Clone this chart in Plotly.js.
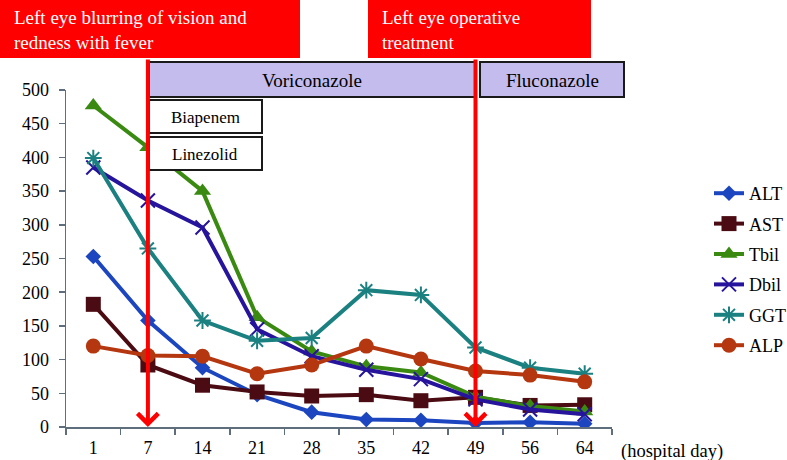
<!DOCTYPE html>
<html>
<head>
<meta charset="utf-8">
<script src="https://cdn.plot.ly/plotly-3.0.1.min.js"></script>
<style>html,body{margin:0;padding:0;background:#fff}#chart{width:787px;height:460px}</style>
</head>
<body>
<div id="chart"></div>
<script>
const days = ['1','7','14','21','28','35','42','49','56','64'];
const ALT  = [253,158,88,48,22,11,10,6,7,5];
const AST  = [182,92,62,52,46,48,39,44,32,33];
const Tbil = [477,415,350,163,112,90,81,45,31,23];
const Dbil = [385,336,296,145,105,85,71,41,26,19];
const GGT  = [399,265,158,128,132,203,196,118,88,79];
const ALP  = [120,106,105,79,92,120,101,83,77,67];
const seriesNames = ['ALT','AST','Tbil','Dbil','GGT','ALP'];
const eventDays = ['7','49'];
const eventLabels = ['Left eye blurring of vision and<br>redness with fever','Left eye operative<br>treatment'];
const drugLabels = ['Voriconazole','Fluconazole','Biapenem','Linezolid'];

const FONT = '"Liberation Serif","Times New Roman",serif';
const colors = ['#1c46c0','#4b0b12','#3a8a12','#26149c','#1b8080','#b5370f'];
const symbols = ['diamond','square','triangle-up','x-thin-open','asterisk-open','circle'];
const sizes = [12,15,15,14,14,15];
const values = [ALT,AST,Tbil,Dbil,GGT,ALP];

const traces = values.map((v,i)=>({
  x: days, y: v, name: seriesNames[i], type:'scatter', mode:'lines+markers',
  line:{color:colors[i], width:4},
  marker:{symbol:symbols[i], size:sizes[i], color:colors[i], line:{color:colors[i], width:(i===3||i===4)?2:0}},
  legendgroup:'g'+i
}));

// pixel -> paper helpers (plot area: left 66, width 546, top 90, height 337)
const L=66, W=546, T=90, H=337;
const px=(x)=>(x-L)/W, py=(y)=>(T+H-y)/H;

const shapes = [
  {type:'rect', xref:'paper', yref:'paper', x0:px(0), x1:px(300), y0:py(58), y1:py(0), fillcolor:'#ff0000', line:{width:0}, layer:'above'},
  {type:'rect', xref:'paper', yref:'paper', x0:px(368), x1:px(591), y0:py(58), y1:py(0), fillcolor:'#ff0000', line:{width:0}, layer:'above'},
  {type:'rect', xref:'paper', yref:'paper', x0:px(149), x1:px(476), y0:py(97), y1:py(62), fillcolor:'#c3bcec', line:{color:'#1a1a1a', width:2}, layer:'above'},
  {type:'rect', xref:'paper', yref:'paper', x0:px(480), x1:px(624), y0:py(97), y1:py(62), fillcolor:'#c3bcec', line:{color:'#1a1a1a', width:2}, layer:'above'},
  {type:'rect', xref:'paper', yref:'paper', x0:px(149), x1:px(262), y0:py(133), y1:py(100), fillcolor:'#ffffff', line:{color:'#1a1a1a', width:2}, layer:'above'},
  {type:'rect', xref:'paper', yref:'paper', x0:px(149), x1:px(262), y0:py(170), y1:py(137), fillcolor:'#ffffff', line:{color:'#1a1a1a', width:2}, layer:'above'}
];

const annotations = [
  {xref:'paper', yref:'paper', x:px(12), y:py(30), xanchor:'left', yanchor:'middle', align:'left', showarrow:false,
   text:eventLabels[0], font:{family:FONT, size:19, color:'#ffffff'}},
  {xref:'paper', yref:'paper', x:px(380), y:py(30), xanchor:'left', yanchor:'middle', align:'left', showarrow:false,
   text:eventLabels[1], font:{family:FONT, size:19, color:'#ffffff'}},
  {xref:'paper', yref:'paper', x:px(312), y:py(80), xanchor:'center', yanchor:'middle', showarrow:false, text:drugLabels[0], font:{family:FONT, size:19, color:'#000'}},
  {xref:'paper', yref:'paper', x:px(552), y:py(80), xanchor:'center', yanchor:'middle', showarrow:false, text:drugLabels[1], font:{family:FONT, size:19, color:'#000'}},
  {xref:'paper', yref:'paper', x:px(205), y:py(117), xanchor:'center', yanchor:'middle', showarrow:false, text:drugLabels[2], font:{family:FONT, size:17, color:'#000'}},
  {xref:'paper', yref:'paper', x:px(205), y:py(154), xanchor:'center', yanchor:'middle', showarrow:false, text:drugLabels[3], font:{family:FONT, size:17, color:'#000'}},
  {xref:'paper', yref:'paper', x:px(619), y:py(451), xanchor:'left', yanchor:'middle', showarrow:false, text:'(hospital day)', font:{family:FONT, size:18.5, color:'#000'}}
];
eventDays.forEach(d=>{
  annotations.push({xref:'x', yref:'y', x:days.indexOf(d), y:0, ax:0, ay:-369, axref:'pixel', ayref:'pixel', text:'', showarrow:true,
    arrowhead:4, arrowsize:1, arrowwidth:4, arrowcolor:'#ff0000', standoff:0, startstandoff:0});
});

const layout = {
  width:787, height:460,
  margin:{l:66, r:175, t:90, b:33, autoexpand:false},
  paper_bgcolor:'#ffffff', plot_bgcolor:'#ffffff',
  font:{family:FONT, size:16, color:'#000'},
  showlegend:true,
  legend:{x:px(709), y:py(175), xanchor:'left', yanchor:'top', font:{family:FONT, size:18, color:'#000'},
          traceorder:'grouped', tracegroupgap:4, bgcolor:'rgba(0,0,0,0)'},
  xaxis:{type:'category', range:[-0.5,9.5], showgrid:false, zeroline:false, showline:true, linecolor:'#5f6e7c', linewidth:1.5,
         ticks:'outside', tickson:'boundaries', ticklen:6, tickcolor:'#5f6e7c', tickwidth:1.5, ticklabelstandoff:4,
         tickfont:{family:FONT, size:18, color:'#000'}, tickangle:0},
  yaxis:{range:[0,500], dtick:50, showgrid:false, zeroline:false, showline:true, linecolor:'#5f6e7c', linewidth:1.5,
         ticks:'outside', ticklen:6, tickcolor:'#5f6e7c', tickwidth:1.5, ticklabelstandoff:6,
         tickfont:{family:FONT, size:18, color:'#000'}},
  shapes:shapes,
  annotations:annotations
};

Plotly.newPlot('chart', traces, layout, {displayModeBar:false, staticPlot:true});
</script>
</body>
</html>
